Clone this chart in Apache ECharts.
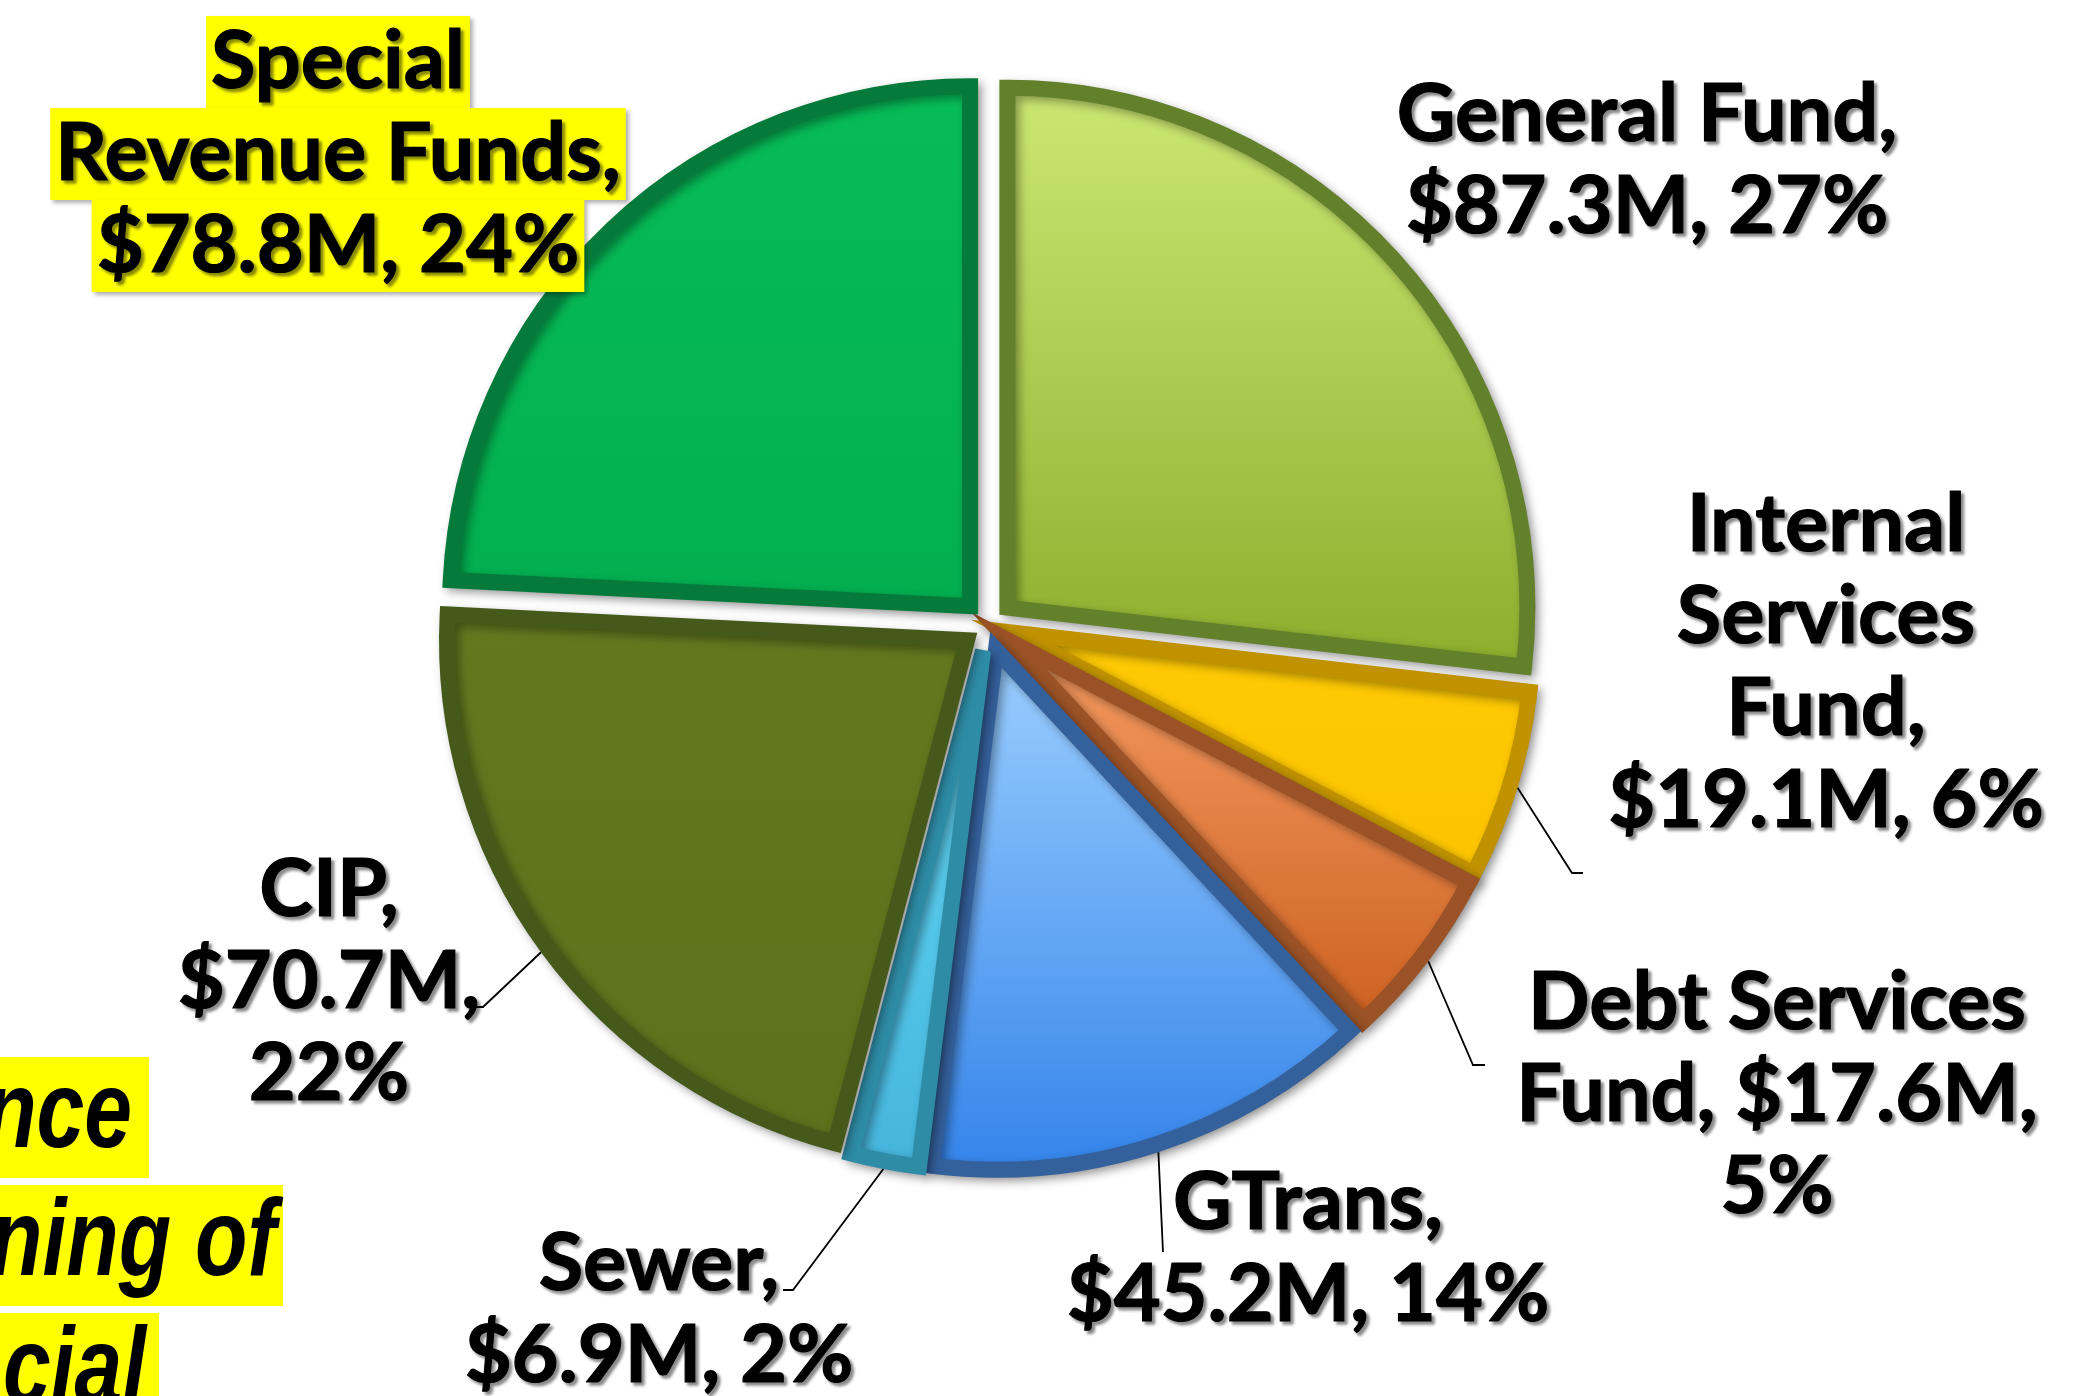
<!DOCTYPE html>
<html><head><meta charset="utf-8">
<script src="https://cdn.jsdelivr.net/npm/echarts@6/dist/echarts.min.js"></script>
<style>html,body{margin:0;padding:0;background:#fff}#c{width:2100px;height:1396px}</style>
</head><body><div id="c"></div>
<script>
// ---- data ----
const categories = ['General Fund','Internal Services Fund','Debt Services Fund','GTrans','Sewer','CIP','Special Revenue Funds'];
const amountsM = [87.3, 19.1, 17.6, 45.2, 6.9, 70.7, 78.8];
// label text with the reference's line breaks ({v} = amount, {p} = percent)
const labelTemplates = [
  'General Fund,\n{v}, {p}',
  'Internal\nServices\nFund,\n{v}, {p}',
  'Debt Services\nFund, {v},\n{p}',
  'GTrans,\n{v}, {p}',
  'Sewer,\n{v}, {p}',
  'CIP,\n{v},\n{p}',
  'Special\nRevenue Funds,\n{v}, {p}'
];
const sideNoteLines = ['nce', 'ning of', 'cial'];

// ---- styles / layout ----
const topColors    = ['#cbe874','#ffca05','#f69c64','#9dd0ff','#66dcfa','#62791f','#07bd58'];
const bottomColors = ['#8bae2c','#fcc400','#cc6020','#3383ea','#45b4dc','#5a721c','#03ae4f'];
const edgeColors   = ['#62812a','#c09200','#9a5226','#34609c','#2e8ca6','#44591a','#067a3a'];
const labelCenters = [[1647,161],[1826,663],[1777,1095],[1308,1249],[659,1310],[329,982],[338,154]];
const leaderElbows = [null,[1572,873],[1473,1065],[1163,1252],[793,1290],[483,1007],null];
const leaderEnds   = [null,[1583,873],[1485,1065],[1163,1252],[783,1290],[472,1007],null];
const CX = 988, CY = 625, EXPLODE = 26, BORDER = 16, RADIUS = 520;
const FONT = 'Lato';

const chart = echarts.init(document.getElementById('c'));
const txtShadow = {textShadowColor:'rgba(0,0,0,0.45)', textShadowBlur:3, textShadowOffsetX:3, textShadowOffsetY:3,
                   textBorderColor:'#000', textBorderWidth:1.2};
const total = amountsM.reduce((a, b) => a + b, 0);

// one pie series per slice: each shows only its own slice, shifted outward (exploded pie)
let cum = 0;
const series = categories.map((name, i) => {
  const midDeg = 90 - 360 * (cum + amountsM[i] / 2) / total;
  cum += amountsM[i];
  const mid = midDeg * Math.PI / 180;
  const cx = CX + EXPLODE * Math.cos(mid), cy = CY - EXPLODE * Math.sin(mid);
  const rOut = RADIUS + BORDER / 2;
  const start = [cx + rOut * Math.cos(mid), cy - rOut * Math.sin(mid)];
  return {
    type: 'pie',
    center: [cx, cy],
    radius: RADIUS,
    startAngle: 90,
    clockwise: true,
    silent: true,
    avoidLabelOverlap: false,
    data: categories.map((n, j) => j === i ? {
      name: n, value: amountsM[j],
      itemStyle: {
        color: {type:'linear', x:0, y:0, x2:0, y2:1,
          colorStops:[{offset:0, color:topColors[j]},{offset:1, color:bottomColors[j]}]},
        borderColor: edgeColors[j], borderWidth: BORDER, borderJoin: 'miter',
        shadowColor: 'rgba(0,0,0,0.35)', shadowBlur: 10, shadowOffsetX: 4, shadowOffsetY: 4
      },
      labelLine: {show: leaderEnds[j] !== null}
    } : {
      name: n, value: amountsM[j],
      itemStyle: {color: 'rgba(0,0,0,0)', borderWidth: 0, shadowBlur: 0},
      label: {show: false}, labelLine: {show: false}
    }),
    label: Object.assign({
      show: true,
      position: 'outside',
      fontFamily: FONT, fontWeight: 'bold', fontSize: 81, lineHeight: 92,
      color: '#000', align: 'center',
      formatter: p => {
        const t = labelTemplates[p.dataIndex]
          .replace('{v}', () => '$' + p.value.toFixed(1) + 'M')
          .replace('{p}', () => Math.round(p.percent) + '%');
        return p.dataIndex === 6 ? t.split('\n').map(s => '{hl|' + s + '}').join('\n') : t;
      },
      rich: {
        hl: Object.assign({
          backgroundColor: '#ffff00', padding: [0, 5], height: 92, lineHeight: 92,
          fontFamily: FONT, fontWeight: 'bold', fontSize: 81, color: '#000',
          shadowColor: 'rgba(0,0,0,0.3)', shadowBlur: 4, shadowOffsetX: 3, shadowOffsetY: 3
        }, txtShadow)
      }
    }, txtShadow),
    labelLine: {show: true, length: 20, length2: 12, lineStyle: {color: '#000', width: 1.8}},
    labelLayout: p => {
      const c = labelCenters[i];
      const out = {x: c[0], y: c[1], align: 'center', verticalAlign: 'middle'};
      if (leaderEnds[i]) out.labelLinePoints = [start, leaderElbows[i], leaderEnds[i]];
      return out;
    }
  };
});

chart.setOption({
  backgroundColor: '#ffffff',
  animation: false,
  series: series,
  graphic: [
    {type:'rect', shape:{x:0, y:1057, width:149, height:121}, style:{fill:'#ffff00'}},
    {type:'rect', shape:{x:0, y:1185, width:283, height:121}, style:{fill:'#ffff00'}},
    {type:'rect', shape:{x:0, y:1313, width:159, height:100}, style:{fill:'#ffff00'}},
    {type:'text', x:132, y:1117, scaleX:0.78, style:{text:sideNoteLines[0], font:'italic bold 110px "Liberation Sans"', fill:'#000', align:'right', verticalAlign:'middle'}},
    {type:'text', x:276, y:1245, scaleX:0.78, style:{text:sideNoteLines[1], font:'italic bold 110px "Liberation Sans"', fill:'#000', align:'right', verticalAlign:'middle'}},
    {type:'text', x:146, y:1373, scaleX:0.78, style:{text:sideNoteLines[2], font:'italic bold 110px "Liberation Sans"', fill:'#000', align:'right', verticalAlign:'middle'}}
  ]
});
</script>
</body></html>
